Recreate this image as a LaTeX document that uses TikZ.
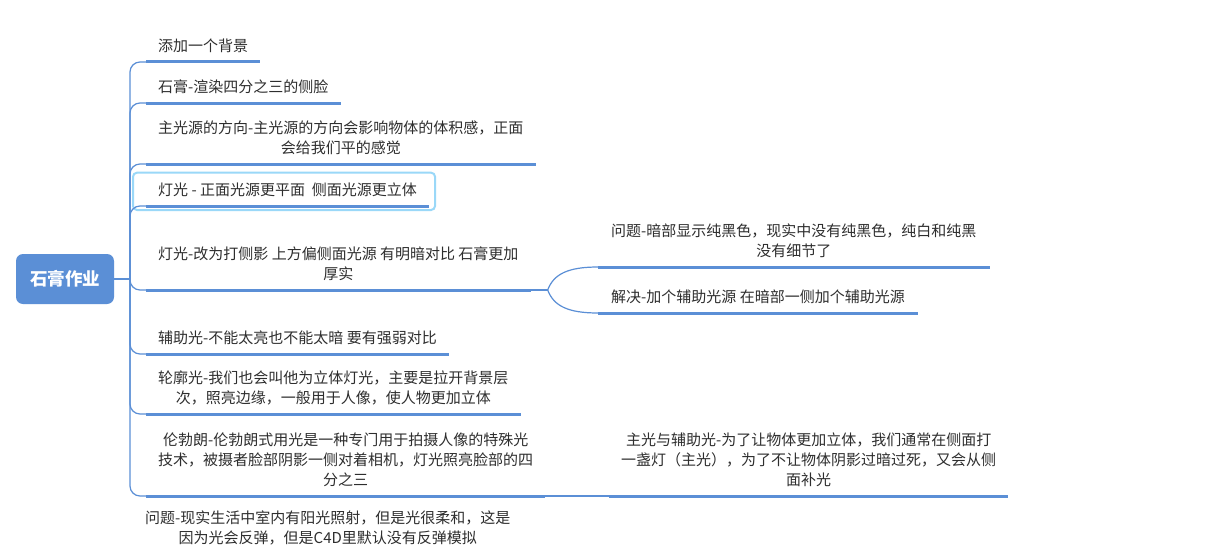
\documentclass[tikz,border=0pt]{standalone}
\usepackage{fontspec}
\setmainfont{Noto Sans CJK SC}
\usetikzlibrary{calc}
\definecolor{mapblue}{HTML}{5B8FD6}
\definecolor{selblue}{HTML}{9AD8F8}
\tikzset{
  topic/.style={anchor=south west, inner xsep=12pt, inner ysep=9pt, align=center,
    text=black!82, font=\fontsize{15}{20}\selectfont},
  uline/.style={draw=mapblue, line width=3pt},
  branch/.style={draw=mapblue, line width=1.2pt, rounded corners=10pt}
}

\begin{document}
\begin{tikzpicture}[x=1pt,y=-1pt]
  \useasboundingbox[fill=white] (0,0) rectangle (1225,551);
  \node[fill=mapblue, rounded corners=7pt, text=white, minimum width=98pt, minimum height=50pt,
    font=\fontsize{17.5}{20}\selectfont\bfseries] (root) at (65,279) {石膏作业};
  \coordinate (spine) at (130,279);
  % main topics
  \node[topic] (n1) at (146,62) {添加一个背景};
  \node[topic] (n2) at (146,103) {石膏-渲染四分之三的侧脸};
  \node[topic] (n3) at (146,164) {主光源的方向-主光源的方向会影响物体的体积感，正面\\会给我们平的感觉};
  \node[topic] (n4) at (146,206) {灯光 - 正面光源更平面~~侧面光源更立体};
  \node[topic] (n5) at (146,290) {灯光-改为打侧影 上方偏侧面光源 有明暗对比 石膏更加\\厚实};
  \node[topic] (n6) at (146,354) {辅助光-不能太亮也不能太暗 要有强弱对比};
  \node[topic] (n7) at (146,414) {轮廓光-我们也会叫他为立体灯光，主要是拉开背景层\\次，照亮边缘，一般用于人像，使人物更加立体};
  \node[topic] (n8) at (146,496) {伦勃朗-伦勃朗式用光是一种专门用于拍摄人像的特殊光\\技术，被摄者脸部阴影一侧对着相机，灯光照亮脸部的四\\分之三};
  \node[topic] (n9) at (133,554) {问题-现实生活中室内有阳光照射，但是光很柔和，这是\\因为光会反弹，但是C4D里默认没有反弹模拟};
  % sub topics
  \node[topic, inner xsep=13pt] (n51) at (598,267) {问题-暗部显示纯黑色，现实中没有纯黑色，纯白和纯黑\\没有细节了};
  \node[topic, inner xsep=13pt] (n52) at (598,313) {解决-加个辅助光源 在暗部一侧加个辅助光源};
  \node[topic] (n81) at (609,496) {主光与辅助光-为了让物体更加立体，我们通常在侧面打\\一盏灯（主光），为了不让物体阴影过暗过死，又会从侧\\面补光};
  % selected topic
  \draw[selblue, line width=2pt, rounded corners=4pt]
    ($(n4.south west)+(-13,4)$) rectangle ($(n4.north east)+(6,-1)$);
  % connectors
  \draw[branch] (root.east) -- (spine);
  \foreach \n in {n1,n2,n3,n4,n5,n6,n7,n8} {
    \draw[branch] (spine) |- (\n.south west);
  }
  \coordinate (j5) at ($(n5.south east)+(17,0)$);
  \draw[branch] (n5.south east) -- (j5);
  \draw[branch] (j5) .. controls +(6,-16) and +(-30,0) .. (n51.south west);
  \draw[branch] (j5) .. controls +(6,16) and +(-30,0) .. (n52.south west);
  \draw[branch] (n8.south east) -- (n81.south west);
  \foreach \n in {n1,n2,n3,n4,n5,n6,n7,n8,n51,n52,n81} {
    \draw[uline] (\n.south west) -- (\n.south east);
  }
\end{tikzpicture}
\end{document}
